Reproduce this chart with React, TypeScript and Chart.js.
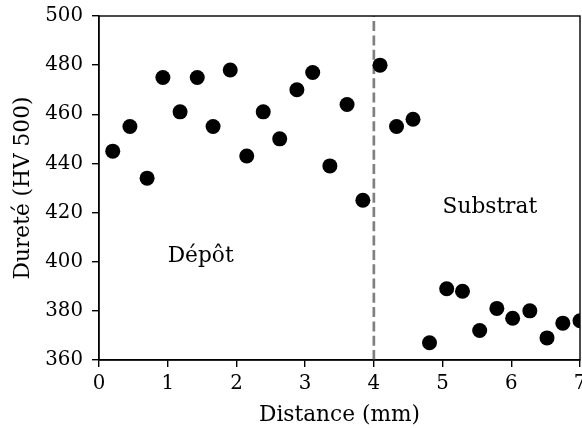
import React, { useEffect, useRef } from "react";
import { Chart, registerables } from "chart.js";

Chart.register(...registerables);

const distances = [0.2, 0.45, 0.7, 0.93, 1.18, 1.43, 1.66, 1.91, 2.15, 2.39, 2.63, 2.88, 3.11, 3.36, 3.61, 3.84, 4.09, 4.33, 4.57, 4.81, 5.06, 5.29, 5.54, 5.79, 6.02, 6.27, 6.52, 6.75, 7.0];
const hardness = [445, 455, 434, 475, 461, 475, 455, 478, 443, 461, 450, 470, 477, 439, 464, 425, 480, 455, 458, 367, 389, 388, 372, 381, 377, 380, 369, 375, 376];
const boundaryX = 4;
const xTicks = [0, 1, 2, 3, 4, 5, 6, 7];
const yTicks = [360, 380, 400, 420, 440, 460, 480, 500];
const annotations = [
  { x: 1, y: 400, text: "Dépôt" },
  { x: 5, y: 420, text: "Substrat" },
];

const FONT = "'DejaVu Serif', serif";
const LABEL_SIZE = 21.7;
const TICK_SIZE = 19.8;

const framePlugin = {
  id: "frameAndText",
  afterDatasetsDraw(chart: any) {
    const { ctx, chartArea, scales } = chart;
    ctx.save();
    ctx.font = `${LABEL_SIZE}px ${FONT}`;
    ctx.fillStyle = "#000";
    ctx.textAlign = "left";
    ctx.textBaseline = "alphabetic";
    for (const a of annotations) {
      ctx.fillText(a.text, scales.x.getPixelForValue(a.x), scales.y.getPixelForValue(a.y));
    }
    ctx.strokeStyle = "#000";
    ctx.lineWidth = 1.4;
    ctx.strokeRect(chartArea.left, chartArea.top, chartArea.right - chartArea.left, chartArea.bottom - chartArea.top);
    ctx.restore();
  },
};

export default function App() {
  const ref = useRef<HTMLCanvasElement>(null);
  useEffect(() => {
    document.body.style.margin = "0";
    const chart = new Chart(ref.current!, {
      type: "scatter",
      data: {
        datasets: [
          {
            data: distances.map((x, i) => ({ x, y: hardness[i] })),
            backgroundColor: "#000",
            borderColor: "#000",
            borderWidth: 0,
            pointRadius: 7.5,
            pointHoverRadius: 7.5,
            clip: 0,
            order: 1,
          } as any,
          {
            type: "line",
            data: [
              { x: boundaryX, y: 360 },
              { x: boundaryX, y: 500 },
            ],
            borderColor: "#808080",
            borderWidth: 2.7,
            borderDash: [10, 4.3],
            pointRadius: 0,
            order: 2,
          } as any,
        ],
      },
      options: {
        animation: false,
        responsive: false,
        layout: { autoPadding: false, padding: { top: 16, right: 2, left: 0, bottom: 0 } },
        plugins: { legend: { display: false }, tooltip: { enabled: false } },
        scales: {
          x: {
            type: "linear",
            min: 0,
            max: 7,
            afterBuildTicks: (s: any) => {
              s.ticks = xTicks.map((v) => ({ value: v }));
            },
            afterFit: (s: any) => {
              s.height = 68;
              s.paddingLeft = 0;
              s.paddingRight = 0;
            },
            grid: { drawOnChartArea: false, drawTicks: true, tickLength: 7, color: "#000", lineWidth: 1.4 },
            border: { display: true, color: "#000", width: 1.4 },
            ticks: { color: "#000", font: { family: FONT, size: TICK_SIZE }, padding: 5, maxRotation: 0, autoSkip: false },
            title: { display: true, text: "Distance (mm)", color: "#000", font: { family: FONT, size: LABEL_SIZE }, padding: { top: 0, bottom: 0 } },
          },
          y: {
            type: "linear",
            min: 360,
            max: 500,
            afterBuildTicks: (s: any) => {
              s.ticks = yTicks.map((v) => ({ value: v }));
            },
            afterFit: (s: any) => {
              s.width = 99;
              s.paddingTop = 0;
              s.paddingBottom = 0;
            },
            grid: { drawOnChartArea: false, drawTicks: true, tickLength: 7, color: "#000", lineWidth: 1.4 },
            border: { display: true, color: "#000", width: 1.4 },
            ticks: { color: "#000", font: { family: FONT, size: TICK_SIZE }, padding: 9, autoSkip: false },
            title: { display: true, text: "Dureté (HV 500)", color: "#000", font: { family: FONT, size: LABEL_SIZE }, padding: { top: 10, bottom: 0 } },
          },
        },
      },
      plugins: [framePlugin],
    });
    return () => chart.destroy();
  }, []);
  return <canvas ref={ref} width={582} height={428} style={{ display: "block" }} />;
}
